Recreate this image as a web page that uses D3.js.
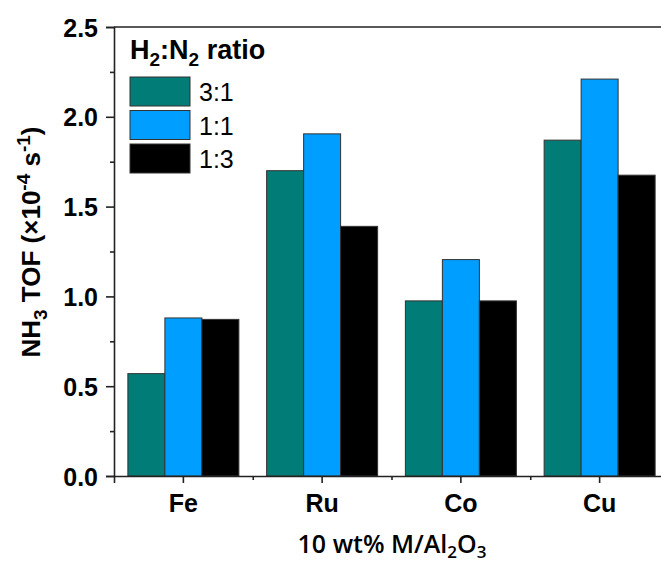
<!DOCTYPE html>
<html>
<head>
<meta charset="utf-8">
<script src="https://cdn.jsdelivr.net/npm/d3@7"></script>
<style>
  body { margin: 0; background: #fff; }
  svg { font-family: "Liberation Sans", Arial, sans-serif; display: block; }
</style>
</head>
<body>
<svg width="661" height="565"></svg>
<script>
const metals = ["Fe", "Ru", "Co", "Cu"];
const ratios = ["3:1", "1:1", "1:3"];
const tof_3to1 = [0.57, 1.70, 0.975, 1.87];
const tof_1to1 = [0.88, 1.905, 1.205, 2.21];
const tof_1to3 = [0.872, 1.39, 0.975, 1.675];
const yTicks = [0.0, 0.5, 1.0, 1.5, 2.0, 2.5];

const colors = ["#027C77", "#009EFF", "#000000"];
const series = [tof_3to1, tof_1to1, tof_1to3];

const margin = {top: 27, left: 114},
      plotW = 555,
      plotH = 449;

const svg = d3.select("svg");
const g = svg.append("g")
    .attr("transform", `translate(${margin.left},${margin.top})`);

const x = d3.scaleBand().domain(metals).range([0, plotW]);
const xInner = d3.scaleBand().domain(ratios)
    .range([x.bandwidth() * 0.1, x.bandwidth() * 0.9]);
const y = d3.scaleLinear().domain([0, 2.5]).range([plotH, 0]);

// bars
metals.forEach((m, i) => {
    const grp = g.append("g").attr("transform", `translate(${x(m)},0)`);
    grp.selectAll("rect")
        .data(ratios.map((r, j) => ({r, v: series[j][i], c: colors[j]})))
        .join("rect")
        .attr("x", d => xInner(d.r))
        .attr("y", d => y(d.v))
        .attr("width", xInner.bandwidth())
        .attr("height", d => plotH - y(d.v))
        .attr("fill", d => d.c)
        .attr("stroke", "#333")
        .attr("stroke-width", 1);
});

// top frame line
g.append("line")
    .attr("x1", 0).attr("x2", plotW)
    .attr("y1", 0).attr("y2", 0)
    .attr("stroke", "#222").attr("stroke-width", 1.6);

// y axis
const yAxis = g.append("g")
    .call(d3.axisLeft(y).tickValues(yTicks).tickFormat(d3.format(".1f")).tickSize(8).tickPadding(8));
g.append("g")
    .call(d3.axisLeft(y).tickValues([0.25, 0.75, 1.25, 1.75, 2.25]).tickFormat("").tickSize(4))
    .select(".domain").remove();

// x axis
const xAxis = g.append("g")
    .attr("transform", `translate(0,${plotH})`)
    .call(d3.axisBottom(x).tickSize(7).tickPadding(11));
g.append("g")
    .attr("transform", `translate(0,${plotH})`)
    .call(d3.axisBottom(d3.scaleLinear().domain([0, 4]).range([0, plotW]))
        .tickValues([1, 2, 3]).tickFormat("").tickSize(4))
    .select(".domain").remove();

g.selectAll(".domain").attr("stroke", "#222").attr("stroke-width", 1.6);
g.selectAll(".tick line").attr("stroke", "#222").attr("stroke-width", 1.6);
g.selectAll(".tick text")
    .attr("fill", "#000")
    .style("font-size", "25px")
    .style("font-weight", "bold");
yAxis.selectAll(".tick text").attr("dy", "0.36em");

// x title
svg.append("text")
    .attr("x", 392).attr("y", 553)
    .attr("text-anchor", "middle")
    .style("font-family", "'Open Sans', sans-serif")
    .style("font-weight", "600")
    .style("font-size", "25px")
    .html('10 wt% M/Al<tspan dy="5" font-size="17">2</tspan><tspan dy="-5">O</tspan><tspan dy="5" font-size="17">3</tspan>');

// y title
svg.append("text")
    .attr("transform", "translate(40,242) rotate(-90)")
    .attr("text-anchor", "middle")
    .style("font-size", "26px")
    .style("font-weight", "bold")
    .html('NH<tspan dy="7" font-size="19">3</tspan><tspan dy="-7"> TOF (×10</tspan><tspan dy="-10" font-size="19">-4</tspan><tspan dy="10"> s</tspan><tspan dy="-10" font-size="19">-1</tspan><tspan dy="10">)</tspan>');

// legend
const legend = svg.append("g").attr("transform", "translate(130,59)");
legend.append("text")
    .attr("x", 0).attr("y", 0)
    .style("font-size", "27px")
    .style("font-weight", "bold")
    .html('H<tspan dy="7" font-size="19">2</tspan><tspan dy="-7">:N</tspan><tspan dy="7" font-size="19">2</tspan><tspan dy="-7"> ratio</tspan>');

const items = legend.selectAll(".item")
    .data(ratios)
    .join("g")
    .attr("class", "item")
    .attr("transform", (d, i) => `translate(0,${18 + i * 33.5})`);
items.append("rect")
    .attr("width", 60).attr("height", 29)
    .attr("fill", (d, i) => colors[i])
    .attr("stroke", "#333").attr("stroke-width", 1);
items.append("text")
    .attr("x", 69).attr("y", 24)
    .style("font-size", "25px")
    .text(d => d);
</script>
</body>
</html>
